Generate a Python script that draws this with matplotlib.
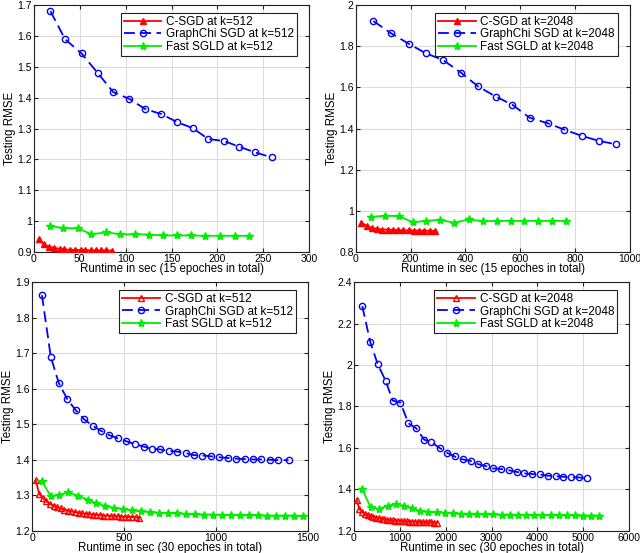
import numpy as np
import matplotlib
matplotlib.use("Agg")
import matplotlib.pyplot as plt
from matplotlib.ticker import FuncFormatter

plt.rcParams['font.family'] = ['Liberation Sans', 'DejaVu Sans']

# ---- top left: k=512, 15 epochs ----
tl_csgd_x = [5, 11, 16, 22, 28, 33, 39, 45, 51, 56, 62, 68, 73, 79, 85]
tl_csgd_y = [0.942, 0.925, 0.918, 0.914, 0.911, 0.909, 0.908, 0.907, 0.907, 0.907,
             0.906, 0.906, 0.906, 0.906, 0.905]
tl_chi_x = [18, 34, 52, 69.5, 86.5, 104, 121.5, 139, 156, 173.5, 190, 207, 224, 241, 259]
tl_chi_y = [1.680, 1.589, 1.543, 1.480, 1.418, 1.396, 1.363, 1.347, 1.321, 1.301,
            1.266, 1.260, 1.241, 1.223, 1.207]
tl_sgld_x = [17, 31.6, 48.4, 62.5, 79, 94, 110, 125, 140.7, 156, 171.6, 187, 202.5, 219, 234]
tl_sgld_y = [0.985, 0.978, 0.977, 0.958, 0.964, 0.958, 0.958, 0.957, 0.954, 0.954,
             0.954, 0.953, 0.953, 0.953, 0.953]

# ---- top right: k=2048, 15 epochs ----
tr_csgd_x = [20, 39, 58, 77, 97, 116, 135, 154, 173, 193, 212, 231, 250, 270, 289]
tr_csgd_y = [0.944, 0.928, 0.918, 0.913, 0.910, 0.910, 0.908, 0.907, 0.906, 0.906,
             0.905, 0.905, 0.905, 0.904, 0.903]
tr_chi_x = [64, 128, 194, 256, 318, 383, 446, 511, 571, 634, 700, 761, 826, 888, 949]
tr_chi_y = [1.922, 1.863, 1.811, 1.765, 1.733, 1.672, 1.605, 1.555, 1.516, 1.453,
            1.426, 1.395, 1.364, 1.340, 1.324]
tr_sgld_x = [55, 107, 159, 207, 256, 307, 358, 413, 463, 514, 565, 614, 666, 717, 768]
tr_sgld_y = [0.971, 0.977, 0.975, 0.945, 0.952, 0.957, 0.943, 0.959, 0.950, 0.952,
             0.952, 0.952, 0.952, 0.952, 0.952]

# ---- bottom left: k=512, 30 epochs ----
bl_csgd_x = [20, 39, 59, 78, 98, 117, 136, 156, 175, 195, 214, 233, 253, 272, 291,
             311, 330, 350, 369, 388, 408, 427, 446, 466, 485, 505, 524, 543, 563, 582]
bl_csgd_y = [1.342, 1.305, 1.292, 1.283, 1.276, 1.271, 1.267, 1.263, 1.260, 1.257,
             1.255, 1.253, 1.251, 1.249, 1.248, 1.247, 1.246, 1.245, 1.244, 1.243,
             1.243, 1.242, 1.241, 1.241, 1.240, 1.240, 1.239, 1.239, 1.238, 1.237]
bl_chi_x = [54, 102, 145, 192, 239, 283, 332, 377, 421, 468, 513, 560, 608, 651, 698,
            744, 789, 836, 880, 927, 972, 1018, 1065, 1110, 1157, 1203, 1248, 1295, 1340, 1395]
bl_chi_y = [1.863, 1.690, 1.617, 1.570, 1.539, 1.514, 1.495, 1.481, 1.469, 1.460,
            1.452, 1.444, 1.437, 1.431, 1.429, 1.425, 1.423, 1.419, 1.413, 1.412,
            1.410, 1.407, 1.405, 1.403, 1.402, 1.401, 1.401, 1.400, 1.399, 1.399]
bl_sgld_x = [54, 101, 148, 197, 250, 302, 348, 396, 444, 493, 542, 591, 640, 689, 738,
             787, 836, 885, 934, 983, 1032, 1081, 1130, 1179, 1228, 1277, 1326, 1375, 1424, 1473]
bl_sgld_y = [1.340, 1.298, 1.301, 1.308, 1.299, 1.288, 1.278, 1.270, 1.265, 1.261,
             1.258, 1.255, 1.253, 1.251, 1.250, 1.249, 1.248, 1.247, 1.246, 1.246,
             1.245, 1.245, 1.244, 1.244, 1.244, 1.243, 1.243, 1.243, 1.243, 1.242]

# ---- bottom right: k=2048, 30 epochs ----
br_csgd_x = [60, 120, 181, 241, 302, 362, 422, 483, 543, 604, 664, 724, 785, 845, 906,
             966, 1026, 1087, 1147, 1208, 1268, 1328, 1389, 1449, 1510, 1570, 1630, 1691, 1751, 1811]
br_csgd_y = [1.348, 1.305, 1.290, 1.282, 1.276, 1.271, 1.267, 1.264, 1.261, 1.258,
             1.256, 1.254, 1.252, 1.251, 1.250, 1.249, 1.248, 1.247, 1.246, 1.245,
             1.245, 1.244, 1.243, 1.243, 1.242, 1.242, 1.241, 1.241, 1.240, 1.240]
br_chi_x = [182, 357, 518, 693, 846, 1013, 1188, 1363, 1531, 1691, 1874, 2027, 2194, 2369, 2544,
            2705, 2872, 3040, 3215, 3383, 3558, 3711, 3886, 4053, 4228, 4396, 4564, 4739, 4899, 5074]
br_chi_y = [2.284, 2.110, 2.004, 1.923, 1.828, 1.819, 1.719, 1.694, 1.640, 1.627,
            1.599, 1.577, 1.559, 1.545, 1.537, 1.522, 1.513, 1.501, 1.498, 1.492,
            1.484, 1.477, 1.474, 1.472, 1.466, 1.464, 1.461, 1.458, 1.458, 1.453]
br_sgld_x = [182, 364, 547, 736, 911, 1094, 1269, 1436, 1618, 1801, 1978, 2156, 2333, 2511, 2688,
             2866, 3043, 3221, 3398, 3576, 3753, 3931, 4108, 4286, 4463, 4641, 4818, 4996, 5173, 5351]
br_sgld_y = [1.401, 1.313, 1.306, 1.321, 1.329, 1.321, 1.310, 1.297, 1.292, 1.289,
             1.287, 1.285, 1.283, 1.282, 1.281, 1.280, 1.279, 1.278, 1.278, 1.277,
             1.277, 1.276, 1.276, 1.276, 1.275, 1.275, 1.275, 1.274, 1.274, 1.274]


def draw_panel(ax, csgd, chi, sgld, k, epochs, xlim, xticks, ylim, yticks, open_tri):
    ax.plot(*csgd, '-', color='red', lw=1.3, marker='^', ms=4.5,
            mfc='none' if open_tri else 'red', mec='red', mew=1.0,
            label=f'C-SGD at k={k}', zorder=3)
    ax.plot(*chi, '--', color='blue', lw=1.3, dashes=(6, 3), marker='o', ms=4.5,
            mfc='none', mec='blue', mew=1.0, label=f'GraphChi SGD at k={k}', zorder=3)
    ax.plot(*sgld, '-', color='#00ee00', lw=1.3, marker='*', ms=6,
            mfc='#00ee00', mec='#00ee00', label=f'Fast SGLD at k={k}', zorder=3)
    ax.set_xlim(*xlim)
    ax.set_ylim(*ylim)
    ax.set_xticks(xticks)
    ax.set_yticks(yticks)
    ax.yaxis.set_major_formatter(FuncFormatter(lambda v, _: f'{v:g}'))
    ax.grid(True, color='#dcdcdc', lw=0.8)
    ax.set_axisbelow(True)
    ax.tick_params(direction='in', top=True, right=True, length=3, labelsize=7.5,
                   pad=1.5, color='#222222')
    for s in ax.spines.values():
        s.set_linewidth(0.8)
        s.set_color('#222222')
    ax.set_xlabel(f'Runtime in sec ({epochs} epoches in total)', fontsize=8.3, labelpad=-1)
    ax.set_ylabel('Testing RMSE', fontsize=8.3, labelpad=1)
    leg = ax.legend(loc='upper right', bbox_to_anchor=(1 - 12 / 275, 1 - 8 / 248),
                    borderaxespad=0, fontsize=8.5, fancybox=False, framealpha=1,
                    edgecolor='#222222', handlelength=3.2, handletextpad=0.4,
                    labelspacing=0.05, borderpad=0.25)
    leg.get_frame().set_linewidth(0.8)


fig = plt.figure(figsize=(6.4, 5.53), dpi=100)
ax_tl = fig.add_axes([0.053, 0.544, 0.430, 0.447])
ax_tr = fig.add_axes([0.556, 0.544, 0.428, 0.447])
ax_bl = fig.add_axes([0.050, 0.040, 0.431, 0.450])
ax_br = fig.add_axes([0.553, 0.040, 0.430, 0.450])

draw_panel(ax_tl, (tl_csgd_x, tl_csgd_y), (tl_chi_x, tl_chi_y), (tl_sgld_x, tl_sgld_y),
           512, 15, (0, 300), np.arange(0, 301, 50), (0.9, 1.7),
           np.round(np.arange(0.9, 1.71, 0.1), 1), False)
draw_panel(ax_tr, (tr_csgd_x, tr_csgd_y), (tr_chi_x, tr_chi_y), (tr_sgld_x, tr_sgld_y),
           2048, 15, (0, 1000), np.arange(0, 1001, 200), (0.8, 2.0),
           np.round(np.arange(0.8, 2.01, 0.2), 1), False)
draw_panel(ax_bl, (bl_csgd_x, bl_csgd_y), (bl_chi_x, bl_chi_y), (bl_sgld_x, bl_sgld_y),
           512, 30, (0, 1500), np.arange(0, 1501, 500), (1.2, 1.9),
           np.round(np.arange(1.2, 1.91, 0.1), 1), True)
draw_panel(ax_br, (br_csgd_x, br_csgd_y), (br_chi_x, br_chi_y), (br_sgld_x, br_sgld_y),
           2048, 30, (0, 6000), np.arange(0, 6001, 1000), (1.2, 2.4),
           np.round(np.arange(1.2, 2.41, 0.2), 1), True)

fig.savefig('out.png', dpi=100)
